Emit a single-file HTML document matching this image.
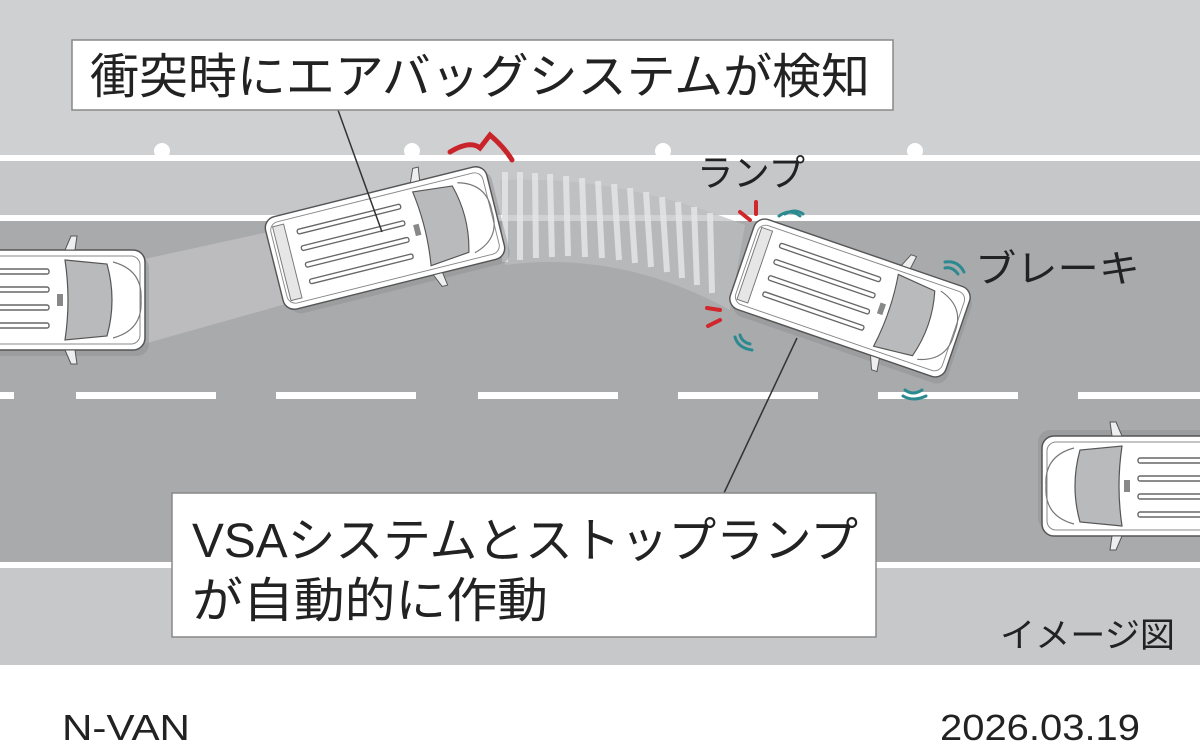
<!DOCTYPE html>
<html><head><meta charset="utf-8"><style>
html,body{margin:0;padding:0;width:1200px;height:756px;overflow:hidden;background:#fff}
svg{display:block}
text{font-family:"Liberation Sans","Noto Sans CJK JP",sans-serif;fill:#222}
</style></head><body>
<svg width="1200" height="756" viewBox="0 0 1200 756">
<defs>
<g id="car">
 <rect x="-118" y="-48" width="238" height="100" rx="12" fill="#8e8f91" opacity="0.5" transform="translate(4,4)"/>
 <rect x="-120" y="-50" width="240" height="100" rx="12" fill="#fff" stroke="#555" stroke-width="1.5"/>
 <rect x="-115" y="-44" width="230" height="88" rx="9" fill="none" stroke="#888" stroke-width="1"/>
 <path d="M40,-40 L82,-36 Q92,0 82,36 L40,40 Q46,0 40,-40Z" fill="#b9babc" stroke="#555" stroke-width="1.2"/>
 <path d="M88,-38 Q118,-30 116,0 Q118,30 88,38" fill="none" stroke="#777" stroke-width="1.2"/>
 <rect x="32" y="-6" width="6" height="12" fill="#888"/>
 <g stroke="#666" stroke-width="1.4" fill="#fff">
  <rect x="-88" y="-31" width="112" height="5" rx="2"/>
  <rect x="-88" y="-13" width="112" height="5" rx="2"/>
  <rect x="-88" y="5" width="112" height="5" rx="2"/>
  <rect x="-88" y="23" width="112" height="5" rx="2"/>
 </g>
 <path d="M-112,-40 L-100,-40 L-100,40 L-112,40Z" fill="#e6e6e6" stroke="#777"/>
 <path d="M40,-50 l6,-14 l6,0 l-2,14Z M40,50 l6,14 l6,0 l-2,-14Z" fill="#eee" stroke="#555"/>
</g>
</defs>
<rect width="1200" height="160" fill="#cfd0d2"/>
<rect y="160" width="1200" height="58" fill="#c6c7c9"/>
<rect y="218" width="1200" height="348" fill="#a9aaac"/>
<rect y="566" width="1200" height="99" fill="#c7c8ca"/>
<rect y="665" width="1200" height="91" fill="#fff"/>
<g fill="#fff">
<rect y="155" width="1200" height="6"/><rect y="215" width="1200" height="6"/><rect y="562" width="1200" height="6"/>
<circle cx="162" cy="151" r="8"/><circle cx="412" cy="151" r="8"/><circle cx="663" cy="151" r="8"/><circle cx="915" cy="151" r="8"/>
<rect x="0" y="392" width="14" height="7"/><rect x="76" y="392" width="140" height="7"/><rect x="276" y="392" width="140" height="7"/><rect x="478" y="392" width="140" height="7"/><rect x="678" y="392" width="140" height="7"/><rect x="878" y="392" width="140" height="7"/><rect x="1078" y="392" width="122" height="7"/>
</g>
<path d="M140,260 L300,225 L300,300 L140,345Z" fill="#c0c1c3" opacity="0.8"/>
<path d="M500,180 Q620,175 745,225 L730,310 Q620,250 505,265Z" fill="#bdbec0" opacity="0.7"/>
<g stroke="#e4e5e6" stroke-width="6" opacity="0.85">
<line x1="505" y1="172" x2="505" y2="262"/><line x1="520" y1="172" x2="520" y2="260"/><line x1="535" y1="173" x2="536" y2="258"/><line x1="550" y1="174" x2="552" y2="257"/><line x1="566" y1="176" x2="568" y2="256"/><line x1="582" y1="178" x2="585" y2="257"/><line x1="598" y1="181" x2="602" y2="258"/><line x1="614" y1="184" x2="619" y2="260"/><line x1="630" y1="188" x2="635" y2="263"/><line x1="646" y1="192" x2="651" y2="267"/><line x1="662" y1="197" x2="667" y2="272"/><line x1="678" y1="202" x2="682" y2="278"/><line x1="694" y1="207" x2="697" y2="285"/><line x1="710" y1="213" x2="712" y2="293"/>
</g>
<use href="#car" transform="translate(25,300)"/>
<use href="#car" transform="translate(385,238) rotate(-14) scale(0.95)"/>
<use href="#car" transform="translate(850,298) rotate(19) scale(0.95)"/>
<use href="#car" transform="translate(1162,486) rotate(180)"/>
<path d="M450,152 Q470,140 480,148 L490,135 Q505,148 512,160" fill="none" stroke="#c8242a" stroke-width="5" stroke-linecap="round"/>
<g stroke="#d0262c" stroke-width="4" stroke-linecap="round">
<line x1="740" y1="212" x2="750" y2="220"/><line x1="756" y1="202" x2="756" y2="214"/>
<line x1="707" y1="308" x2="720" y2="310"/><line x1="708" y1="326" x2="720" y2="320"/>
</g>
<g fill="none" stroke="#2a8a90" stroke-width="3" stroke-linecap="round">
<path d="M779,216 Q790,208 800,216"/>
<path d="M785,214 Q795,208 803,214"/>
<path d="M945,268 Q952,266 958,274"/><path d="M945,262 Q958,260 964,272"/>
<path d="M740,335 Q742,342 750,344"/><path d="M735,337 Q738,348 752,350"/>
<path d="M905,390 Q913,396 922,390"/><path d="M903,396 Q913,402 926,396"/>
</g>
<line x1="338" y1="110" x2="382" y2="232" stroke="#333" stroke-width="1.5"/>
<line x1="724" y1="493" x2="797" y2="338" stroke="#333" stroke-width="1.5"/>
<rect x="72" y="40" width="821" height="70" fill="#fff" stroke="#888" stroke-width="1.5"/>
<text x="90" y="93" font-size="48" textLength="780" lengthAdjust="spacingAndGlyphs">衝突時にエアバッグシステムが検知</text>
<rect x="172" y="493" width="704" height="144" fill="#fff" stroke="#888" stroke-width="1.5"/>
<text x="192" y="557" font-size="48" textLength="666" lengthAdjust="spacingAndGlyphs">VSAシステムとストップランプ</text>
<text x="192" y="617" font-size="48" textLength="356" lengthAdjust="spacingAndGlyphs">が自動的に作動</text>
<text x="697" y="186" font-size="37" textLength="108" lengthAdjust="spacingAndGlyphs">ランプ</text>
<text x="975" y="282" font-size="38" textLength="165" lengthAdjust="spacingAndGlyphs">ブレーキ</text>
<text x="1000" y="647" font-size="34" textLength="175" lengthAdjust="spacingAndGlyphs">イメージ図</text>
<text x="62" y="740" font-size="36" textLength="128" lengthAdjust="spacingAndGlyphs">N-VAN</text>
<text x="940" y="740" font-size="36" textLength="200" lengthAdjust="spacingAndGlyphs">2026.03.19</text>
</svg>
</body></html>
